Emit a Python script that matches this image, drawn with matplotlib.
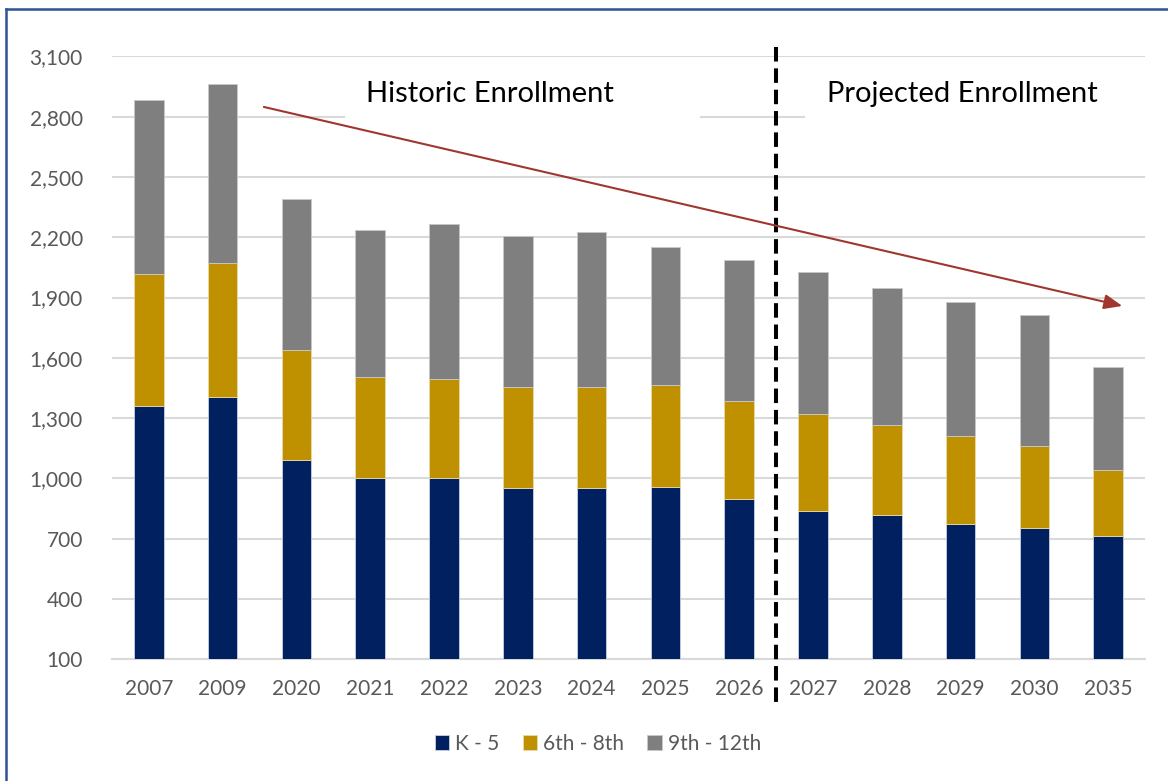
import matplotlib
matplotlib.use("Agg")
import matplotlib.pyplot as plt
from matplotlib.lines import Line2D
from matplotlib.patches import Rectangle
import numpy as np

plt.rcParams['font.family'] = ['Lato', 'DejaVu Sans']

years = ['2007', '2009', '2020', '2021', '2022', '2023', '2024', '2025',
         '2026', '2027', '2028', '2029', '2030', '2035']
k5 = [1362, 1406, 1092, 1003, 1003, 952, 954, 959, 897, 838, 816, 772, 755, 715]
g6_8 = [653, 666, 545, 500, 490, 501, 501, 505, 488, 481, 448, 437, 405, 325]
g9_12 = [866, 890, 755, 734, 771, 751, 772, 687, 700, 709, 682, 667, 651, 513]
series_names = ['K - 5', '6th - 8th', '9th - 12th']
colors = ['#002060', '#BF9000', '#7F7F7F']
yticks = [100, 400, 700, 1000, 1300, 1600, 1900, 2200, 2500, 2800, 3100]

W, H = 1168, 781
fig = plt.figure(figsize=(W / 100, H / 100), dpi=100)
ax = fig.add_axes([112 / W, (H - 659.3) / H, (1145 - 112) / W, (659.3 - 56.3) / H])

x = np.arange(len(years))
bw = 0.40
b1 = ax.bar(x, k5, bw, color=colors[0], edgecolor='#C9D1E3', linewidth=0.6,
            label=series_names[0], zorder=3)
b2 = ax.bar(x, g6_8, bw, bottom=k5, color=colors[1], edgecolor='#E8D9A8',
            linewidth=0.6, label=series_names[1], zorder=3)
bottom3 = np.array(k5) + np.array(g6_8)
b3 = ax.bar(x, g9_12, bw, bottom=bottom3, color=colors[2], edgecolor='#C8C8C8',
            linewidth=0.6, label=series_names[2], zorder=3)

ax.set_xlim(-0.5, len(years) - 0.5)
ax.set_ylim(100, 3100)
ax.set_yticks(yticks)
ax.set_yticklabels([f'{v:,}' for v in yticks])
ax.set_xticks(x)
ax.set_xticklabels(years)
ax.yaxis.grid(True, color='#D9D9D9', linewidth=1.5, zorder=0)
ax.set_axisbelow(True)
for s in ['top', 'right', 'left']:
    ax.spines[s].set_visible(False)
ax.spines['bottom'].set_color('#D9D9D9')
ax.spines['bottom'].set_linewidth(1.5)
ax.tick_params(axis='both', length=0, labelsize=15, colors='#595959')
ax.tick_params(axis='y', pad=21)
ax.tick_params(axis='x', pad=14)

# white text boxes that hide the gridline behind them
ax.add_patch(Rectangle(((345 - 112) / 1033, (659.3 - 127) / 603), (700 - 345) / 1033,
                       60 / 603, transform=ax.transAxes, facecolor='white',
                       edgecolor='none', zorder=1.5))
ax.add_patch(Rectangle(((805 - 112) / 1033, (659.3 - 127) / 603), (1160 - 805) / 1033,
                       60 / 603, transform=ax.transAxes, facecolor='white',
                       edgecolor='none', zorder=1.5, clip_on=False))
ax.text((490 - 112) / 1033, (659.3 - 94) / 603, 'Historic Enrollment',
        transform=ax.transAxes, ha='center', va='center', fontsize=21,
        color='black', zorder=5)
ax.text((962 - 112) / 1033, (659.3 - 94) / 603, 'Projected Enrollment',
        transform=ax.transAxes, ha='center', va='center', fontsize=21,
        color='black', zorder=5)

# divider between historic and projected
ax.add_line(Line2D([8.5, 8.5], [1.0154, -0.0725], transform=ax.get_xaxis_transform(),
                   color='black', lw=2.9, linestyle=(0, (3.6, 1.7)),
                   clip_on=False, zorder=6))

# trend arrow
ax.annotate('', xy=(0.978, 0.586), xytext=(0.147, 0.916),
            xycoords='axes fraction', textcoords='axes fraction',
            arrowprops=dict(arrowstyle='-|>,head_length=1.1,head_width=0.45',
                            color='#A0362F', lw=1.5, shrinkA=0, shrinkB=0),
            zorder=7)

leg = fig.legend(handles=[b1, b2, b3], labels=series_names, loc='center',
                 bbox_to_anchor=(0.512, 1 - 744 / H), ncol=3, frameon=False,
                 fontsize=15, handlelength=0.7, handleheight=0.7,
                 handletextpad=0.3, columnspacing=1.1)
for t in leg.get_texts():
    t.set_color('#595959')

# outer frame (left and top edges visible)
fig.add_artist(Line2D([6 / W, 6 / W], [0, (H - 9) / H], transform=fig.transFigure,
                      color='#2F5496', lw=1.8))
fig.add_artist(Line2D([6 / W, 1], [(H - 9) / H, (H - 9) / H], transform=fig.transFigure,
                      color='#2F5496', lw=1.8))

fig.savefig('out.png', dpi=100, facecolor='white')
